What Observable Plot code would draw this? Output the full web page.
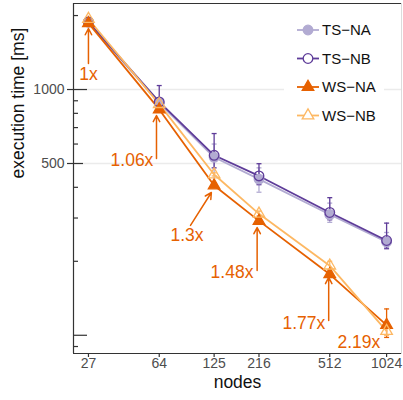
<!DOCTYPE html>
<html><head><meta charset="utf-8">
<script src="https://cdn.jsdelivr.net/npm/d3@7"></script>
<script src="https://cdn.jsdelivr.net/npm/@observablehq/plot@0.6"></script>
<style>
body{margin:0;background:#fff;}
svg{font-family:"Liberation Sans",Arial,Helvetica,sans-serif;}
#dbg{position:absolute;left:80px;top:250px;font:10px monospace;color:red;}
</style>
</head><body><div id="chart"></div><div id="dbg"></div>
<script>
// ---- data ----
const nodes = [27, 64, 125, 216, 512, 1024];
const seriesNames = ["TS−NA", "TS−NB", "WS−NA", "WS−NB"];
const tsNA = [1880, 880, 530, 432, 310, 240];
const tsNB = [1885, 890, 540, 445, 316, 243];
const wsNA = [1862, 830, 407, 292, 177, 110];
const wsNB = [1936, 872, 451, 312, 192, 104];
const tsNALo = [1850, 850, 400, 382, 288, 228];
const tsNAHi = [1910, 920, 600, 480, 345, 262];
const tsNBLo = [1860, 820, 480, 410, 295, 225];
const tsNBHi = [1910, 1038, 662, 499, 363, 286];
const wsNALo = [1840, 815, 400, 285, 172, 98];
const wsNAHi = [1890, 845, 415, 300, 185, 128];
const wsNBLo = [1910, 860, 445, 306, 185, 100];
const wsNBHi = [1960, 885, 458, 320, 200, 110];

const speedupLabels = ["1x", "1.06x", "1.3x", "1.48x", "1.77x", "2.19x"];
const labelNodes = [27, 45.9, 89.8, 155.4, 373.7, 730.6];
const labelTime = [1151, 514, 254.7, 180, 111.7, 93.5];
const arrowFromNodes = [27, 61.9, 93.7, 211.2, 505.4];
const arrowFromTime = [1276, 524, 279.8, 183.5, 114.9];
const arrowToNodes = [27, 61.9, 120.9, 211.2, 505.4];
const arrowToTime = [1771, 784, 381, 274.5, 171.9];

const xTicks = [27, 64, 125, 216, 512, 1024];
const yTicks = [500, 1000];
const shortTicks = [90, 200, 300, 400, 600, 700, 800, 900, 2000];
const midTicks = [500];
const longTicks = [100, 1000];

// ---- build ----
const colors = ["#b2abd2", "#5e3c99", "#e66101", "#fdb863"];
const symbols = ["circle", "circle", "triangle", "triangle"];
const filled = [true, false, true, false];
const radii = [4.8, 4.8, 4.3, 4.3];
const vals = [tsNA, tsNB, wsNA, wsNB];
const los = [tsNALo, tsNBLo, wsNALo, wsNBLo];
const his = [tsNAHi, tsNBHi, wsNAHi, wsNBHi];

const series = seriesNames.map((name, i) =>
  nodes.map((n, j) => ({series: name, nodes: n, time: vals[i][j], lo: los[i][j], hi: his[i][j]})));

const xDomain = [22.5, 1228];
const yDomain = [84.3, 2239];
const W = 403, H = 400, mL = 73, mR = 2, mT = 3, mB = 47;
const frameW = W - mL - mR, frameH = H - mT - mB;

const cap = {draw(ctx) { ctx.moveTo(-2.5, 0); ctx.lineTo(2.5, 0); }};

const marks = [];
marks.push(Plot.ruleY(yTicks, {stroke: "#ebebeb", strokeWidth: 1.3}));
marks.push(Plot.frame({stroke: "#dcdcdc", strokeWidth: 1}));
marks.push(Plot.ruleX([xDomain[0]], {stroke: "#333", strokeWidth: 1.2}));
marks.push(Plot.ruleY([yDomain[0]], {stroke: "#333", strokeWidth: 1.2}));
marks.push(Plot.ruleY([yDomain[1]], {stroke: "#333", strokeWidth: 1.2}));
marks.push(Plot.tickY(shortTicks, {y: d => d, stroke: "#333", strokeWidth: 1.2, insetRight: frameW - 5}));
marks.push(Plot.tickY(midTicks, {y: d => d, stroke: "#333", strokeWidth: 1.2, insetRight: frameW - 10}));
marks.push(Plot.tickY(longTicks, {y: d => d, stroke: "#333", strokeWidth: 1.2, insetRight: frameW - 14}));

series.forEach((s, i) => {
  marks.push(Plot.ruleX(s, {x: "nodes", y1: "lo", y2: "hi", stroke: colors[i], strokeWidth: 1.3}));
  marks.push(Plot.dot(s, {x: "nodes", y: "lo", symbol: cap, r: 3, stroke: colors[i], strokeWidth: 1.3, fill: "none"}));
  marks.push(Plot.dot(s, {x: "nodes", y: "hi", symbol: cap, r: 3, stroke: colors[i], strokeWidth: 1.3, fill: "none"}));
});
series.forEach((s, i) => {
  marks.push(Plot.line(s, {x: "nodes", y: "time", stroke: colors[i], strokeWidth: 1.8}));
});
series.forEach((s, i) => {
  marks.push(Plot.dot(s, {x: "nodes", y: "time", symbol: symbols[i], r: radii[i],
    fill: filled[i] ? colors[i] : "white", fillOpacity: filled[i] ? 1 : 0,
    stroke: colors[i], strokeWidth: 1.3}));
});

const arrows = arrowFromNodes.map((n, i) => ({x1: n, y1: arrowFromTime[i], x2: arrowToNodes[i], y2: arrowToTime[i]}));
marks.push(Plot.arrow(arrows, {x1: "x1", y1: "y1", x2: "x2", y2: "y2", stroke: "#e66101", strokeWidth: 1.5, headLength: 7, headAngle: 55}));
const labels = speedupLabels.map((t, i) => ({t, x: labelNodes[i], y: labelTime[i]}));
marks.push(Plot.text(labels, {x: "x", y: "y", text: "t", fill: "#e66101", fontSize: 17.5}));

// x axis: ticks + labels drawn directly
marks.push(Plot.tickX(xTicks, {x: d => d, stroke: "#333", strokeWidth: 1.2, insetTop: frameH, insetBottom: -4}));
marks.push(Plot.text(xTicks, {x: d => d, text: d => String(d), frameAnchor: "bottom", dy: 14, fontSize: 14, fill: "#4d4d4d"}));
// y axis: outer ticks + labels
marks.push(Plot.tickY(yTicks, {y: d => d, stroke: "#333", strokeWidth: 1.2, insetLeft: -6, insetRight: frameW}));
marks.push(Plot.text(yTicks, {y: d => d, text: d => String(d), frameAnchor: "left", dx: -9, textAnchor: "end", fontSize: 14, fill: "#4d4d4d"}));

marks.push(Plot.text(["execution time [ms]"], {frameAnchor: "left", dx: -55, rotate: -90, fontSize: 17.5, fill: "#111"}));
marks.push(Plot.text(["nodes"], {frameAnchor: "bottom", dy: 34, fontSize: 17.5, fill: "#111"}));

const chart = Plot.plot({
  width: W, height: H,
  marginLeft: mL, marginRight: mR, marginTop: mT, marginBottom: mB,
  style: {color: "#4d4d4d", background: "white", fontFamily: "Liberation Sans, Arial, sans-serif"},
  x: {type: "log", domain: xDomain, axis: null},
  y: {type: "log", domain: yDomain, axis: null},
  marks
});
document.getElementById("chart").appendChild(chart);

// ---- legend (inside panel, top right) ----
const svg = d3.select(chart);
const lg = svg.append("g").attr("text-anchor", "start");
lg.append("rect").attr("x", 284).attr("y", 8).attr("width", 100).attr("height", 128).attr("fill", "white");
seriesNames.forEach((name, i) => {
  const cy = 30 + i * 28.5;
  lg.append("line").attr("x1", 297).attr("x2", 319).attr("y1", cy).attr("y2", cy)
    .attr("stroke", colors[i]).attr("stroke-width", 1.8);
  const sym = symbols[i] === "circle" ? d3.symbolCircle : d3.symbolTriangle;
  lg.append("path").attr("d", d3.symbol(sym, Math.PI * radii[i] * radii[i])())
    .attr("transform", `translate(308,${cy})`)
    .attr("fill", filled[i] ? colors[i] : "white").attr("stroke", colors[i]).attr("stroke-width", 1.3);
  lg.append("text").attr("x", 322).attr("y", cy).attr("dy", "0.35em")
    .attr("font-size", 15).attr("fill", "#111").text(name);
});
</script>
</body></html>
